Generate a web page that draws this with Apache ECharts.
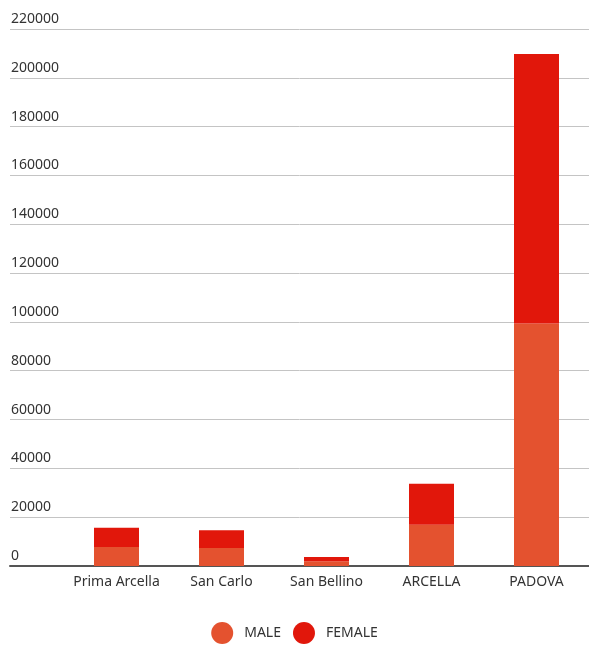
<!DOCTYPE html>
<html>
<head>
<meta charset="utf-8">
<script src="https://cdn.jsdelivr.net/npm/echarts@6/dist/echarts.min.js"></script>
<style>html,body{margin:0;padding:0;background:#fff}#c{width:589px;height:646px}</style>
</head>
<body>
<div id="c"></div>
<script>
const categories = ['Prima Arcella', 'San Carlo', 'San Bellino', 'ARCELLA', 'PADOVA'];
const maleValues = [7800, 7400, 1900, 16900, 99300];
const femaleValues = [7900, 7200, 1800, 16800, 110500];
const seriesNames = ['MALE', 'FEMALE'];
const yMin = 0, yMax = 220000, yStep = 20000;

const chart = echarts.init(document.getElementById('c'));
const font = 'Noto Sans';
chart.setOption({
  animation: false,
  textStyle: { fontFamily: font },
  color: ['#E4522F', '#E1170B'],
  grid: [
    { left: 10, right: 0, top: 29, bottom: 80 },
    { left: 64, right: -4, top: 29, bottom: 80 }
  ],
  xAxis: [
    { gridIndex: 0, type: 'category', data: [''], axisLabel: { show: false }, axisTick: { show: false },
      axisLine: { show: true, lineStyle: { color: '#555', width: 2 } }, splitLine: { show: false } },
    { gridIndex: 1, type: 'category', data: categories, axisTick: { show: false },
      axisLine: { show: false },
      axisLabel: { interval: 0, color: '#333', fontSize: 14, fontFamily: font, margin: 9 } }
  ],
  yAxis: [
    { gridIndex: 0, type: 'value', min: yMin, max: yMax, interval: yStep,
      axisLine: { show: false }, axisTick: { show: false },
      axisLabel: { inside: true, margin: 1, verticalAlign: 'bottom', align: 'left', color: '#333',
        fontSize: 14, fontFamily: font, padding: [0, 0, 3, 0], formatter: v => String(v) },
      splitLine: { show: true, lineStyle: { color: '#c4c4c4', width: 1 } } },
    { gridIndex: 1, type: 'value', min: yMin, max: yMax, interval: yStep, show: false,
      splitLine: { show: false } }
  ],
  legend: {
    top: 617, left: 'center', icon: 'circle', itemWidth: 22, itemHeight: 22, itemGap: 12,
    textStyle: { color: '#333', fontSize: 14, fontFamily: font, padding: [0, 0, 0, 6] },
    data: seriesNames
  },
  series: [
    { name: seriesNames[0], type: 'bar', stack: 's', xAxisIndex: 1, yAxisIndex: 1, barWidth: 45, data: maleValues },
    { name: seriesNames[1], type: 'bar', stack: 's', xAxisIndex: 1, yAxisIndex: 1, barWidth: 45, data: femaleValues }
  ]
});
</script>
</body>
</html>
